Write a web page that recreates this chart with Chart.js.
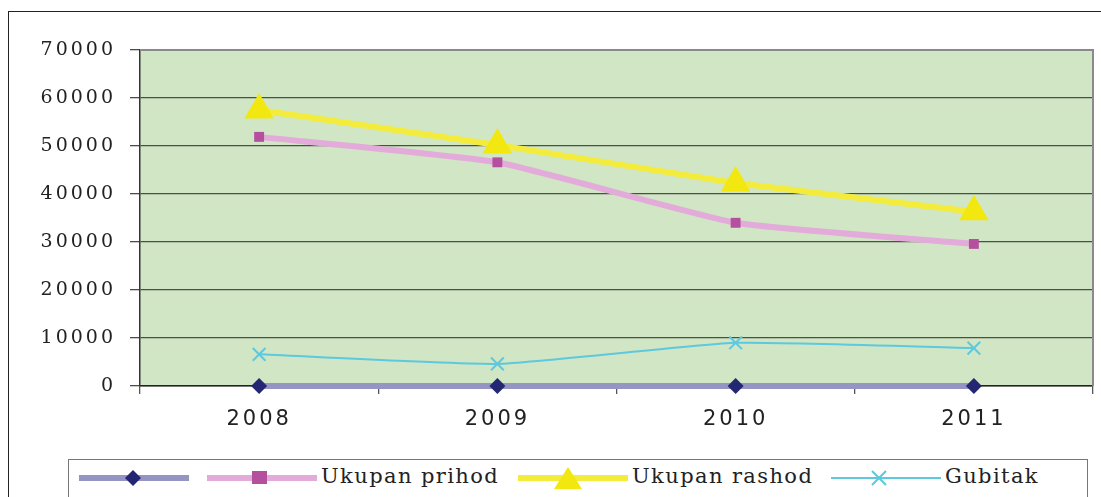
<!DOCTYPE html>
<html>
<head>
<meta charset="utf-8">
<script src="https://cdn.jsdelivr.net/npm/chart.js@4.4.1/dist/chart.umd.min.js"></script>
<style>
  html, body { margin: 0; padding: 0; background: #fff; }
  #wrap { position: relative; width: 1101px; height: 497px; overflow: hidden; }
  #frame { position: absolute; left: 8px; top: 11px; width: 1200px; height: 600px; border-left: 1.5px solid #222; border-top: 1.5px solid #222; }
  #c { position: absolute; left: 0; top: 0; }
  #legend { position: absolute; left: 68px; top: 459px; width: 1018px; height: 60px; border: 1.5px solid #777; background: #fff;
    font-family: "DejaVu Serif", "Liberation Serif", serif; font-size: 21px; color: #222; letter-spacing: 1.4px; }
  .item { position: absolute; top: 0; height: 36px; }
  .item svg { position: absolute; top: 0; left: 0; }
  .item span { position: absolute; top: 4px; white-space: nowrap; }
</style>
</head>
<body>
<div id="wrap">
  <div id="frame"></div>
  <canvas id="c" width="1101" height="497"></canvas>
  <div id="legend">
    <div class="item" style="left:8px">
      <svg width="115" height="36"><line x1="2" y1="18" x2="112" y2="18" stroke="#9595c4" stroke-width="6"/><polygon points="56,10 64,18 56,26 48,18" fill="#232672"/></svg>
    </div>
    <div class="item" style="left:136px">
      <svg width="115" height="36"><line x1="2" y1="18" x2="112" y2="18" stroke="#e3abd9" stroke-width="6"/><rect x="47" y="11" width="15" height="13" fill="#b5509f"/></svg>
      <span style="left:116px">Ukupan prihod</span>
    </div>
    <div class="item" style="left:447px">
      <svg width="115" height="36"><line x1="2" y1="18" x2="112" y2="18" stroke="#f3ec3c" stroke-width="6"/><polygon points="52,7 66,29 38,29" fill="#f2e80f"/></svg>
      <span style="left:116px">Ukupan rashod</span>
    </div>
    <div class="item" style="left:760px">
      <svg width="115" height="36"><line x1="2" y1="18" x2="112" y2="18" stroke="#5ec8de" stroke-width="2"/><path d="M43,11 L57,25 M57,11 L43,25" stroke="#5ec8de" stroke-width="2"/></svg>
      <span style="left:116px">Gubitak</span>
    </div>
  </div>
</div>
<script>
const categories = ['2008', '2009', '2010', '2011'];
const seriesBase = [0, 0, 0, 0];
const prihod = [51900, 46600, 34000, 29600];
const rashod = [57500, 50200, 42300, 36300];
const gubitak = [6600, 4600, 9000, 7900];
const yTicks = [0, 10000, 20000, 30000, 40000, 50000, 60000, 70000];

const plotBg = {
  id: 'plotBg',
  beforeDraw(chart) {
    const { ctx, chartArea: a } = chart;
    ctx.save();
    ctx.fillStyle = '#d0e6c5';
    ctx.fillRect(a.left, a.top, a.right - a.left, a.bottom - a.top);
    ctx.restore();
    ctx.letterSpacing = '3px';
  },
  afterDatasetsDraw(chart) {
    const { ctx, chartArea: a } = chart;
    ctx.save();
    ctx.strokeStyle = '#8a8a8a';
    ctx.lineWidth = 2;
    ctx.beginPath();
    ctx.moveTo(a.left, a.top);
    ctx.lineTo(a.right, a.top);
    ctx.lineTo(a.right, a.bottom);
    ctx.stroke();
    ctx.restore();
  },
  afterDraw(chart) { chart.ctx.letterSpacing = '0px'; }
};

new Chart(document.getElementById('c').getContext('2d'), {
  type: 'line',
  data: {
    labels: categories,
    datasets: [
      { label: '', data: seriesBase, borderColor: '#9595c4', borderWidth: 6, pointStyle: 'rectRot', pointRadius: 8,
        pointBackgroundColor: '#232672', pointBorderColor: '#232672', pointBorderWidth: 0, clip: false, order: 4 },
      { label: 'Ukupan prihod', data: prihod, borderColor: '#e3abd9', borderWidth: 6, pointStyle: 'rect', pointRadius: 7,
        pointBackgroundColor: '#b5509f', pointBorderColor: '#b5509f', pointBorderWidth: 0, tension: 0.15, order: 2 },
      { label: 'Ukupan rashod', data: rashod, borderColor: '#f3ec3c', borderWidth: 6, pointStyle: 'triangle', pointRadius: 17,
        pointBackgroundColor: '#f2e80f', pointBorderColor: '#f2e80f', pointBorderWidth: 0, tension: 0.1, order: 1 },
      { label: 'Gubitak', data: gubitak, borderColor: '#5ec8de', borderWidth: 2, pointStyle: 'cross', pointRadius: 9,
        pointRotation: 45, pointBackgroundColor: '#5ec8de', pointBorderColor: '#5ec8de', pointBorderWidth: 2, tension: 0.15, order: 3 }
    ]
  },
  options: {
    responsive: false,
    animation: false,
    layout: { autoPadding: false, padding: { top: 50, right: 8, left: 0, bottom: 0 } },
    plugins: { legend: { display: false }, tooltip: { enabled: false } },
    scales: {
      x: {
        offset: true,
        afterFit(s) { s.height = 111; s.paddingLeft = 0; s.paddingRight = 0; },
        grid: { offset: true, drawOnChartArea: false, drawTicks: true, tickLength: 8, color: '#555', lineWidth: 1.3 },
        border: { color: '#222', width: 1.5 },
        ticks: { color: '#222', padding: 13, font: { family: '"DejaVu Sans", Arial, sans-serif', size: 21 } }
      },
      y: {
        min: 0,
        max: 70000,
        afterFit(s) { s.width = 140; s.paddingTop = 0; s.paddingBottom = 0; },
        afterBuildTicks(s) { s.ticks = yTicks.map(v => ({ value: v })); },
        grid: { color: '#4d4d4d', lineWidth: 1.3, tickLength: 10, drawTicks: true },
        border: { color: '#333', width: 1.5 },
        ticks: { color: '#222', padding: 14, callback: v => String(v),
          font: { family: '"DejaVu Serif", "Liberation Serif", serif', size: 19 } }
      }
    }
  },
  plugins: [plotBg]
});
</script>
</body>
</html>
